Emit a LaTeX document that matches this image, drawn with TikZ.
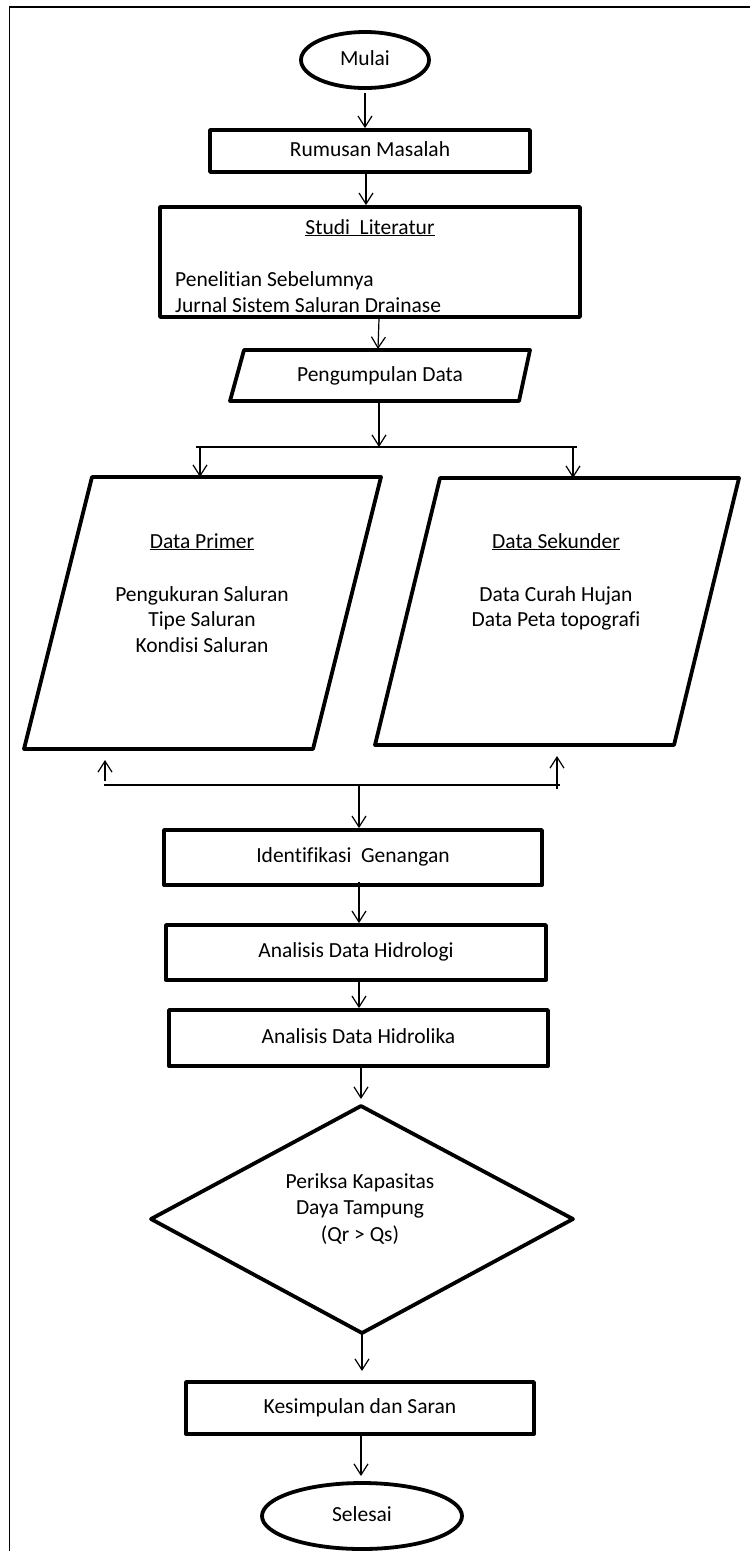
\documentclass[tikz,border=0pt]{standalone}
\usepackage{fontspec}
\setmainfont[Ligatures=NoCommon]{Carlito}
\usetikzlibrary{arrows.meta,shapes.geometric}
\newcommand{\fsz}{\fontsize{21.5}{26}\selectfont}
\begin{document}
\begin{tikzpicture}[x=1pt,y=-1pt,
  shp/.style={draw, line width=3.8pt, line join=round},
  proc/.style={shp, rectangle, inner sep=0pt, font=\fsz, text height=15pt, text depth=5pt},
  term/.style={shp, ellipse, inner sep=0pt, font=\fsz, text height=15pt, text depth=5pt},
  lbl/.style={inner sep=0pt, font=\fsz, text height=15pt, text depth=5pt},
  arr/.style={line width=1.2pt, -{Straight Barb[length=11pt,width=14pt,line width=1.2pt]}},
  con/.style={line width=1.2pt}
]
\useasboundingbox (0,0) rectangle (750,1551);
% frame
\draw[line width=1.8pt] (9.5,1551) -- (9.5,7) -- (750,7);

% start
\node[term, minimum width=128pt, minimum height=56pt] (mulai) at (365,60) {Mulai};
\node[proc, minimum width=320pt, minimum height=42pt] (rumusan) at (370,151) {Rumusan Masalah};
\node[shp, rectangle, minimum width=420pt, minimum height=110pt, inner sep=0pt] (studi) at (370,262) {};
\node[lbl] (studit) at (370,229) {\underline{Studi\ \ Literatur}};
\node[lbl, anchor=west] (studi1) at (175,281) {Penelitian Sebelumnya};
\node[lbl, anchor=west] (studi2) at (175,307) {Jurnal Sistem Saluran Drainase};

% pengumpulan data
\draw[shp] (244,350) -- (530,350) -- (519,401) -- (230,401) -- cycle;
\node[lbl] (pengumpulan) at (380,376) {Pengumpulan Data};

% data primer / sekunder
\draw[shp] (92,477) -- (381,477) -- (313,749) -- (24,749) -- cycle;
\node[lbl] (primer0) at (202,543) {\underline{Data Primer}};
\node[lbl] (primer1) at (202,596) {Pengukuran Saluran};
\node[lbl] (primer2) at (202,621) {Tipe Saluran};
\node[lbl] (primer3) at (202,647) {Kondisi Saluran};

\draw[shp] (440,478) -- (739,478) -- (674,745) -- (375,745) -- cycle;
\node[lbl] (sekunder0) at (556,543) {\underline{Data Sekunder}};
\node[lbl] (sekunder1) at (556,596) {Data Curah Hujan};
\node[lbl] (sekunder2) at (556,621) {Data Peta topografi};

% process boxes
\node[proc, minimum width=378pt, minimum height=55pt] (ident) at (353,857.5) {Identifikasi\ \ Genangan};
\node[proc, minimum width=380pt, minimum height=55pt] (hidrologi) at (356,952.5) {Analisis Data Hidrologi};
\node[proc, minimum width=379pt, minimum height=56pt] (hidrolika) at (358.5,1038) {Analisis Data Hidrolika};

% decision
\coordinate (dtop) at (361,1106);
\coordinate (dright) at (573,1219);
\coordinate (dbot) at (362,1333);
\coordinate (dleft) at (151,1219);
\draw[shp] (dtop) -- (dright) -- (dbot) -- (dleft) -- cycle;
\node[lbl] (cek1) at (360,1183) {Periksa Kapasitas};
\node[lbl] (cek2) at (360,1209) {Daya Tampung};
\node[lbl] (cek3) at (360,1236) {(Qr > Qs)};

\node[proc, minimum width=348pt, minimum height=52pt] (kesimpulan) at (360,1408) {Kesimpulan dan Saran};
\node[term, minimum width=200pt, minimum height=66pt] (selesai) at (362,1516) {Selesai};

% connectors
\coordinate (a1) at (365,93);
\draw[arr] (a1) -- (a1 |- rumusan.north);
\coordinate (a2) at (366,174);
\draw[arr] (a2) -- (a2 |- studi.north);
\coordinate (a3) at (379,319);
\coordinate (pgtop) at (378,349);
\draw[arr] (a3) -- (pgtop);
\coordinate (pgbot) at (379,402);
\coordinate (bl) at (196,447);
\coordinate (br) at (577,447);
\draw[arr] (pgbot) -- (pgbot |- bl);
\draw[con] (bl) -- (br);
\coordinate (s1) at (200,447);
\coordinate (p1) at (200,477);
\draw[arr] (s1) -- (p1);
\coordinate (s2) at (573,447);
\coordinate (p2) at (573,478);
\draw[arr] (s2) -- (p2);

\coordinate (ml) at (104,785);
\coordinate (mr) at (560,785);
\draw[con] (ml) -- (mr);
\coordinate (u1) at (105,781);
\coordinate (u1e) at (105,760);
\draw[arr] (u1) -- (u1e);
\coordinate (u2) at (557,789);
\coordinate (u2e) at (557,756);
\draw[arr] (u2) -- (u2e);
\coordinate (m0) at (359,785);
\draw[arr] (m0) -- (m0 |- ident.north);

\coordinate (a4) at (359,882);
\draw[arr] (a4) -- (a4 |- hidrologi.north);
\coordinate (a5) at (359,980);
\draw[arr] (a5) -- (a5 |- hidrolika.north);
\coordinate (a6) at (361,1066);
\coordinate (a6e) at (361,1099);
\draw[arr] (a6) -- (a6e);
\coordinate (a7e) at (362,1371);
\draw[arr] (dbot) -- (a7e);
\coordinate (a8) at (361,1434);
\coordinate (a8e) at (361,1476);
\draw[arr] (a8) -- (a8e);
\end{tikzpicture}
\end{document}
